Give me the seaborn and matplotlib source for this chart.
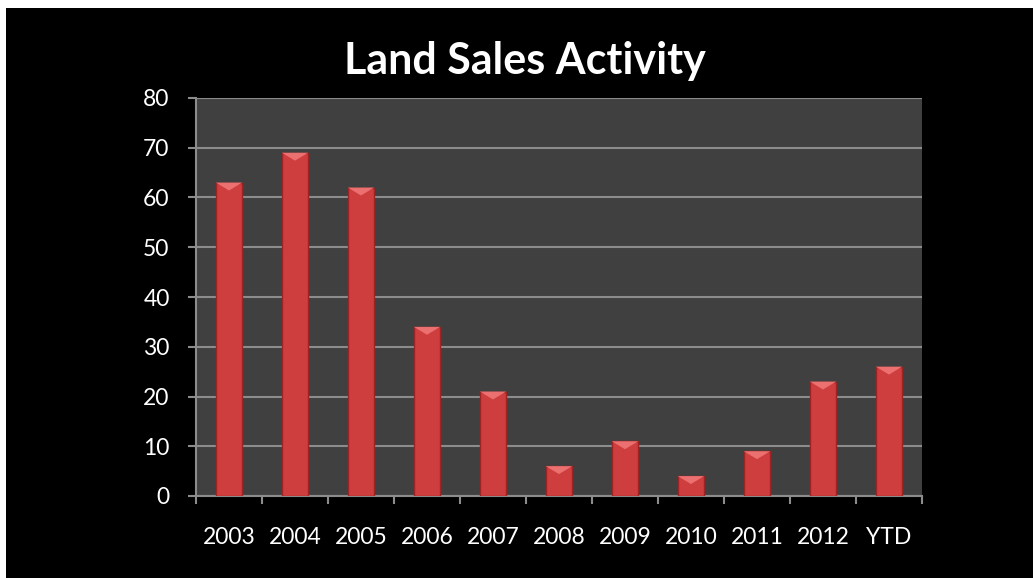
import matplotlib
matplotlib.use("Agg")
import matplotlib.pyplot as plt
import seaborn as sns
import pandas as pd
import numpy as np
from matplotlib.patches import Rectangle
from matplotlib.path import Path

categories = ["2003", "2004", "2005", "2006", "2007", "2008", "2009", "2010", "2011", "2012", "YTD"]
values = [63, 69, 62, 34, 21, 6, 11, 4, 9, 23, 26]
yticks = [0, 10, 20, 30, 40, 50, 60, 70, 80]
title = "Land Sales Activity"

sns.set_style("dark")
plt.rcParams['font.family'] = ['Lato', 'DejaVu Sans']

df = pd.DataFrame({"year": categories, "count": values})

fig = plt.figure(figsize=(10.33, 5.78), dpi=100, facecolor="white")
bg = Rectangle((6/1033, 0), 1, 1 - 8/578, transform=fig.transFigure,
               facecolor="black", edgecolor="none", zorder=-10)
fig.patches.append(bg)
ax = fig.add_axes([196/1033, 1 - 496/578, 726/1033, 398/578])
ax.set_facecolor("#404040")

sns.barplot(data=df, x="year", y="count", ax=ax, color="#cf3e3e", width=0.4,
            saturation=1, edgecolor="#9c2424", linewidth=1, zorder=3)

# bevelled top highlight on each bar
bevel = Path([(-1, 0), (1, 0), (0, -0.6), (-1, 0)],
             [Path.MOVETO, Path.LINETO, Path.LINETO, Path.CLOSEPOLY])
ax.scatter(np.arange(len(values)), values, marker=bevel, s=19**2,
           color="#ec7070", edgecolor="none", zorder=4)

ax.set_ylim(0, 80)
ax.set_xlim(-0.5, len(categories) - 0.5)
ax.set_yticks(yticks)
ax.grid(axis="y", color="#8c8c8c", linewidth=1.5, zorder=1)
ax.grid(axis="x", visible=False)
ax.set_axisbelow(True)
for s in ["top", "right"]:
    ax.spines[s].set_visible(False)
for s in ["left", "bottom"]:
    ax.spines[s].set_visible(True)
    ax.spines[s].set_color("#8c8c8c")
    ax.spines[s].set_linewidth(1.5)

ax.tick_params(axis="y", colors="#8c8c8c", length=6, width=1.5, direction="out",
               labelcolor="white", labelsize=16.5, pad=13, left=True)
ax.tick_params(axis="x", which="major", length=0, labelcolor="white", labelsize=16.5, pad=22)
ax.set_xticks(np.arange(-0.5, len(categories), 1.0), minor=True)
ax.tick_params(axis="x", which="minor", colors="#8c8c8c", length=6, width=1.5,
               direction="out", bottom=True)
ax.set_xlabel("")
ax.set_ylabel("")

fig.text(525/1033, 1 - 74/578, title, color="white", fontsize=31, fontweight="bold",
         ha="center", va="baseline")

fig.savefig("out.png", dpi=100, facecolor=fig.get_facecolor())
